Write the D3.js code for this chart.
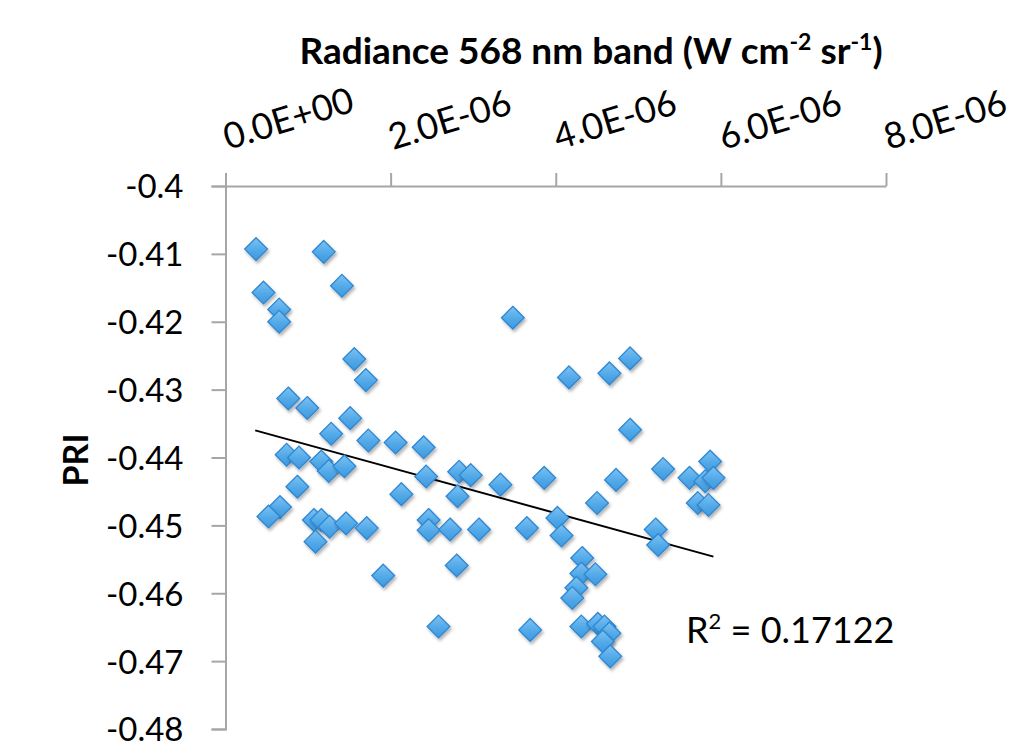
<!DOCTYPE html>
<html>
<head>
<meta charset="utf-8">
<script src="https://cdn.jsdelivr.net/npm/d3@7"></script>
<style>
  html, body { margin: 0; padding: 0; background: #fff; }
  svg { display: block; }
  text { font-family: Lato, "Noto Sans", sans-serif; fill: #000; }
</style>
</head>
<body>
<svg id="chart" width="1024" height="756"></svg>
<script>
// ---- data ----
const radiance = [
  0.37e-6, 1.19e-6, 0.46e-6, 1.41e-6, 0.65e-6, 0.65e-6, 1.56e-6, 1.70e-6, 0.76e-6, 0.99e-6,
  1.51e-6, 1.28e-6, 1.73e-6, 2.06e-6, 2.40e-6, 0.74e-6, 0.89e-6, 1.16e-6, 1.25e-6, 1.44e-6,
  2.43e-6, 2.83e-6, 0.87e-6, 2.13e-6, 2.81e-6, 0.66e-6, 0.52e-6, 1.07e-6, 1.16e-6, 1.26e-6,
  1.46e-6, 1.71e-6, 1.09e-6, 2.46e-6, 2.46e-6, 2.72e-6, 2.80e-6, 1.91e-6, 2.58e-6, 3.48e-6,
  4.16e-6, 4.65e-6, 4.90e-6, 4.90e-6, 2.97e-6, 3.33e-6, 3.86e-6, 4.73e-6, 4.50e-6, 5.30e-6,
  5.62e-6, 5.87e-6, 5.81e-6, 5.91e-6, 5.72e-6, 5.85e-6, 3.07e-6, 3.65e-6, 4.02e-6, 4.07e-6,
  5.21e-6, 5.24e-6, 4.32e-6, 4.31e-6, 4.48e-6, 4.25e-6, 4.20e-6, 3.69e-6, 4.31e-6, 4.51e-6,
  4.59e-6, 4.65e-6, 4.57e-6, 4.66e-6
];
const pri = [
  -0.4093, -0.4097, -0.4157, -0.4147, -0.4182, -0.4200, -0.4255, -0.4286, -0.4313, -0.4327,
  -0.4342, -0.4365, -0.4375, -0.4378, -0.4385, -0.4396, -0.4400, -0.4406, -0.4420, -0.4413,
  -0.4428, -0.4421, -0.4443, -0.4454, -0.4457, -0.4473, -0.4487, -0.4492, -0.4492, -0.4502,
  -0.4497, -0.4504, -0.4524, -0.4492, -0.4507, -0.4506, -0.4559, -0.4574, -0.4649, -0.4194,
  -0.4282, -0.4276, -0.4254, -0.4359, -0.4426, -0.4440, -0.4430, -0.4433, -0.4467, -0.4417,
  -0.4430, -0.4406, -0.4435, -0.4430, -0.4467, -0.4470, -0.4506, -0.4504, -0.4489, -0.4515,
  -0.4506, -0.4529, -0.4548, -0.4571, -0.4572, -0.4592, -0.4607, -0.4654, -0.4649, -0.4645,
  -0.4649, -0.4659, -0.4671, -0.4693
];
const trendX = [0.36e-6, 5.91e-6];
const trendY = [-0.4360, -0.4546];
const xTickValues = [0, 2e-6, 4e-6, 6e-6, 8e-6];
const xTickLabels = ["0.0E+00", "2.0E-06", "4.0E-06", "6.0E-06", "8.0E-06"];
const yTickValues = [-0.4, -0.41, -0.42, -0.43, -0.44, -0.45, -0.46, -0.47, -0.48];
const yTickLabels = ["-0.4", "-0.41", "-0.42", "-0.43", "-0.44", "-0.45", "-0.46", "-0.47", "-0.48"];
const r2Text = "0.17122";

// ---- layout ----
const svg = d3.select("#chart");
const x = d3.scaleLinear().domain([0, 8e-6]).range([225.5, 886]);
const y = d3.scaleLinear().domain([-0.4, -0.48]).range([186, 729]);
const axisColor = "#a6a6a6";

const defs = svg.append("defs");
const grad = defs.append("linearGradient").attr("id", "dgrad")
  .attr("x1", 0).attr("y1", 0).attr("x2", 0).attr("y2", 1);
grad.append("stop").attr("offset", "0%").attr("stop-color", "#7cc2f2");
grad.append("stop").attr("offset", "55%").attr("stop-color", "#52a9e8");
grad.append("stop").attr("offset", "100%").attr("stop-color", "#3f98de");
const filt = defs.append("filter").attr("id", "shadow")
  .attr("x", "-50%").attr("y", "-50%").attr("width", "200%").attr("height", "200%");
filt.append("feDropShadow").attr("dx", 1.5).attr("dy", 2.5).attr("stdDeviation", 1.8)
  .attr("flood-color", "#000").attr("flood-opacity", 0.3);

// ---- y axis (left, ticks outward) ----
const yAxis = d3.axisLeft(y).tickValues(yTickValues)
  .tickFormat((d, i) => yTickLabels[i]).tickSize(14).tickPadding(28);
const gy = svg.append("g").attr("transform", `translate(${x(0)},0)`).call(yAxis);
gy.select(".domain").attr("stroke", axisColor).attr("stroke-width", 2);
gy.selectAll(".tick line").attr("stroke", axisColor).attr("stroke-width", 2);
gy.selectAll(".tick text").attr("font-family", "Lato, 'Noto Sans', sans-serif")
  .attr("font-size", 33).attr("fill", "#000").attr("dy", "0.36em");

// ---- x axis (top, ticks upward) ----
const xAxis = d3.axisTop(x).tickValues(xTickValues)
  .tickFormat((d, i) => xTickLabels[i]).tickSize(13).tickSizeOuter(0);
const gx = svg.append("g").attr("transform", `translate(0,${y(-0.4)})`).call(xAxis);
gx.select(".domain").attr("stroke", axisColor).attr("stroke-width", 2);
gx.selectAll(".tick line").attr("stroke", axisColor).attr("stroke-width", 2);
gx.selectAll(".tick text")
  .attr("font-family", "Lato, 'Noto Sans', sans-serif")
  .attr("font-size", 36).attr("fill", "#000")
  .attr("text-anchor", "start").attr("x", 2).attr("y", -36).attr("dy", 0)
  .attr("transform", "rotate(-17, 2, -36)");

// ---- trend line ----
svg.append("line")
  .attr("x1", x(trendX[0])).attr("y1", y(trendY[0]))
  .attr("x2", x(trendX[1])).attr("y2", y(trendY[1]))
  .attr("stroke", "#000").attr("stroke-width", 2);

// ---- points ----
const pts = radiance.map((v, i) => ({ x: v, y: pri[i] }));
const sym = d3.symbol().type(d3.symbolDiamond2).size(330);
svg.append("g").selectAll("path").data(pts).join("path")
  .attr("d", sym)
  .attr("transform", d => `translate(${x(d.x)},${y(d.y)})`)
  .attr("fill", "url(#dgrad)")
  .attr("stroke", "#2f87d2").attr("stroke-width", 1.3)
  .attr("filter", "url(#shadow)");

// ---- titles ----
const title = svg.append("text").attr("x", 591).attr("y", 64)
  .attr("text-anchor", "middle").attr("font-weight", "bold").attr("font-size", 37);
title.append("tspan").text("Radiance 568 nm band (W cm");
title.append("tspan").text("-2").attr("font-size", 23).attr("dy", -14);
title.append("tspan").text(" sr").attr("dy", 14);
title.append("tspan").text("-1").attr("font-size", 23).attr("dy", -14);
title.append("tspan").text(")").attr("dy", 14);

svg.append("text").attr("transform", "translate(88,460) rotate(-90)")
  .attr("text-anchor", "middle").attr("font-weight", "bold").attr("font-size", 34)
  .text("PRI");

const r2 = svg.append("text").attr("x", 686).attr("y", 643).attr("font-size", 36);
r2.append("tspan").text("R");
r2.append("tspan").text("2").attr("font-size", 22).attr("dy", -14);
r2.append("tspan").text(" = " + r2Text).attr("dy", 14);
</script>
</body>
</html>
